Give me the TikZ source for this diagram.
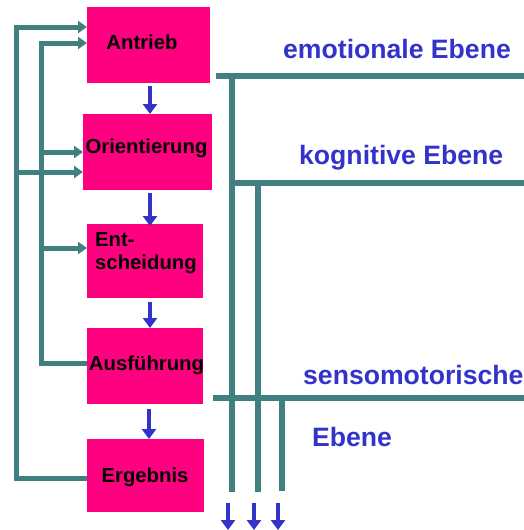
\documentclass[tikz,border=0pt]{standalone}
\usepackage{fontspec}
\setmainfont{Liberation Sans}
\usetikzlibrary{arrows.meta}
\definecolor{boxpink}{RGB}{255,0,128}
\definecolor{flowteal}{RGB}{64,128,128}
\definecolor{levelblue}{RGB}{51,51,204}
\tikzset{
  stage/.style={fill=boxpink, draw=none, inner sep=0pt, anchor=north west},
  stagetext/.style={font=\fontsize{20.3}{23}\selectfont\bfseries, text=black, inner sep=0pt, align=left},
  leveltext/.style={font=\fontsize{26.6}{30}\selectfont\bfseries, text=levelblue, inner sep=0pt, anchor=west},
  feedback/.style={draw=flowteal, line width=5pt},
  feedarrow/.style={feedback, -{Triangle[length=9pt,width=12pt]}},
  levelline/.style={draw=flowteal, line width=5.5pt},
  stepflow/.style={draw=levelblue, line width=3.8pt, -{Triangle[length=10pt,width=14pt]}}
}
\begin{document}
\begin{tikzpicture}[x=1pt,y=-1pt]
\useasboundingbox (0,0) rectangle (524,530);

% stage boxes
\node[stage, minimum width=123pt, minimum height=76pt] (antrieb) at (87,7) {};
\node[stage, minimum width=129pt, minimum height=76pt] (orient) at (83,114) {};
\node[stage, minimum width=116pt, minimum height=74pt] (entsch) at (87,224) {};
\node[stage, minimum width=116pt, minimum height=76pt] (ausf) at (87,328) {};
\node[stage, minimum width=117pt, minimum height=73pt] (ergeb) at (87,439) {};

\node[stagetext] (tantrieb) at (142,42) {Antrieb};
\node[stagetext] (torient) at (146.5,148) {Orientierung};
\node[stagetext, anchor=west] (tentsch) at (95,253.5) {Ent-\\scheidung};
\node[stagetext] (tausf) at (146.5,365) {Ausführung};
\node[stagetext] (tergeb) at (145,477) {Ergebnis};

% sequence arrows
\draw[stepflow] (antrieb.south -| 150,0) ++(0,3) -- (orient.north -| 150,0);
\draw[stepflow] (orient.south -| 150,0) ++(0,3) -- ([yshift=-2pt]entsch.north -| 150,0);
\draw[stepflow] (entsch.south -| 150,0) ++(0,4) -- (ausf.north -| 150,0);
\draw[stepflow] (ausf.south -| 149,0) ++(0,5) -- (ergeb.north -| 149,0);

% feedback loops
\coordinate (outA) at (16,478);
\coordinate (outB) at (16,27);
\coordinate (outC) at (16,172);
\coordinate (inA) at (41,363);
\coordinate (inB) at (41,43);
\coordinate (inC) at (41,152);
\coordinate (inD) at (41,248);

\draw[feedarrow] (ergeb.west |- outA) -- (outA) -- (outB) -- (antrieb.west |- outB);
\draw[feedarrow] (outC) -- (orient.west |- outC);
\draw[feedarrow] (ausf.west |- inA) -- (inA) -- (inB) -- (antrieb.west |- inB);
\draw[feedarrow] (inC) -- (orient.west |- inC);
\draw[feedarrow] (inD) -- (entsch.west |- inD);

% levels
\coordinate (emoL) at (216,76);
\coordinate (emoR) at (524,76);
\coordinate (emoV) at (232,76);
\coordinate (emoE) at (232,492);
\coordinate (kogV) at (258,183);
\coordinate (kogR) at (524,183);
\coordinate (kogE) at (258,492);
\coordinate (senL) at (213,398);
\coordinate (senR) at (524,398);
\coordinate (senV) at (282,398);
\coordinate (senE) at (282,491);

\draw[levelline] (emoL) -- (emoR);
\draw[levelline] (emoV) -- (emoE);
\draw[levelline] (emoV |- kogV) -- (kogR);
\draw[levelline] (kogV) -- (kogE);
\draw[levelline] (senL) -- (senR);
\draw[levelline] (senV) -- (senE);

\node[leveltext] (lemo) at (283,49) {emotionale Ebene};
\node[leveltext] (lkog) at (299,158) {kognitive Ebene};
\node[leveltext] (lsen) at (303,375) {sensomotorische};
\node[leveltext] (lseb) at (312,437) {Ebene};

% outputs
\coordinate (o1) at (228,503);
\coordinate (o2) at (254,503);
\coordinate (o3) at (278,503);
\draw[stepflow] (o1) -- ++(0,27);
\draw[stepflow] (o2) -- ++(0,27);
\draw[stepflow] (o3) -- ++(0,27);
\end{tikzpicture}
\end{document}
